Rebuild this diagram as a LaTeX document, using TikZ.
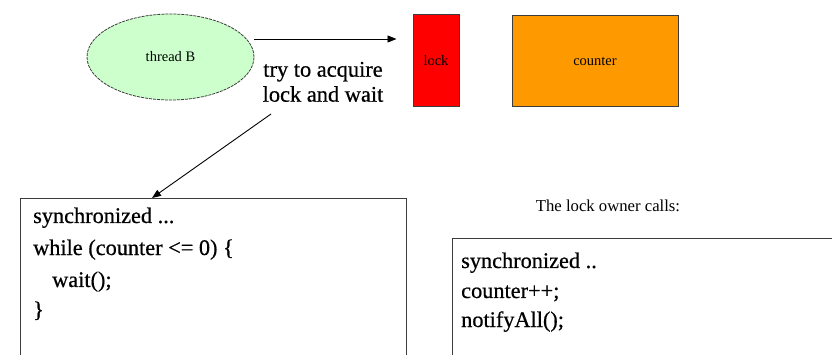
\documentclass[tikz,border=0pt]{standalone}
\usepackage{fontspec}
\setmainfont{Liberation Serif}
\newfontfamily\heavyserif[FakeBold=0.6]{Liberation Serif}
\usetikzlibrary{shapes.geometric,arrows.meta}
\definecolor{threadgreen}{RGB}{204,255,204}
\definecolor{lockred}{RGB}{255,0,0}
\definecolor{counterorange}{RGB}{255,153,0}
\definecolor{edgegray}{RGB}{60,60,60}
\begin{document}
\begin{tikzpicture}[x=1pt,y=-1pt,
  small/.style={font=\fontsize{14.5}{17}\selectfont},
  codeline/.style={font=\heavyserif\fontsize{22.3}{26}\selectfont, anchor=base west, inner sep=0},
  biglabel/.style={font=\heavyserif\fontsize{22.4}{26}\selectfont, anchor=base, inner sep=0},
  frame/.style={draw=edgegray, line width=1pt},
  arr/.style={draw=black, line width=0.9pt, -{Triangle[length=9pt,width=7pt]}}]
\clip (0,0) rectangle (832,355);
\fill[white] (0,0) rectangle (832,355);

% thread, lock and shared counter
\node[ellipse, draw=edgegray, line width=0.8pt, dash pattern=on 3pt off 1pt,
      fill=threadgreen, minimum width=167, minimum height=86, inner sep=0, small]
      (tb) at (170.5,57) {thread B};
\node[frame, fill=lockred, minimum width=46, minimum height=92, inner sep=0, small]
      (lock) at (436,61) {lock};
\node[frame, fill=counterorange, minimum width=166, minimum height=91, inner sep=0, small]
      (counter) at (595,61.5) {counter};

% caption of the waiting step
\node[biglabel] (try1) at (323,76.7) {try to acquire};
\node[biglabel] (try2) at (323,101.7) {lock and wait};

% code frames
\node[frame, anchor=north west, minimum width=386, minimum height=200, inner sep=0]
      (lbox) at (20,198) {};
\node[frame, anchor=north west, minimum width=420, minimum height=150, inner sep=0]
      (rbox) at (452,238) {};

% waiting thread code
\node[codeline] (l1) at (33,223) {synchronized ...};
\node[codeline] (l2) at (33,255) {while (counter <= 0) \{};
\node[codeline] (l3) at (52,287) {wait();};
\node[codeline] (l4) at (33,317) {\}};

% lock owner code
\node[font=\fontsize{16.7}{20}\selectfont, anchor=base, inner sep=0] (owner) at (608,212) {The lock owner calls:};
\node[codeline] (r1) at (461,268) {synchronized ..};
\node[codeline] (r2) at (461,298) {counter++;};
\node[codeline] (r3) at (461,327) {notifyAll();};

% connectors
\draw[arr] ([yshift=18]tb.east) -- ([xshift=-16,yshift=22]lock.west);
\coordinate (tail) at (271,114);
\draw[arr] (tail) -- ([xshift=132]lbox.north west);
\end{tikzpicture}
\end{document}
